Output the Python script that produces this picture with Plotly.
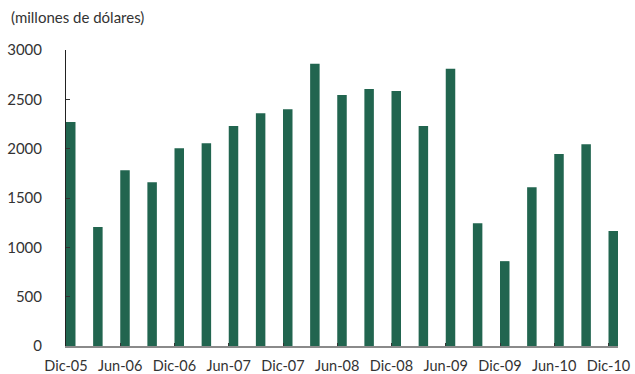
import plotly.graph_objects as go

quarters = ["Dic-05", "Mar-06", "Jun-06", "Sep-06", "Dic-06", "Mar-07", "Jun-07", "Sep-07",
            "Dic-07", "Mar-08", "Jun-08", "Sep-08", "Dic-08", "Mar-09", "Jun-09", "Sep-09",
            "Dic-09", "Mar-10", "Jun-10", "Sep-10", "Dic-10"]
values = [2270, 1205, 1780, 1660, 2005, 2055, 2230, 2360, 2400, 2860, 2545, 2605,
          2585, 2230, 2810, 1245, 860, 1610, 1945, 2045, 1165]
y_ticks = [0, 500, 1000, 1500, 2000, 2500, 3000]

x_pos = list(range(len(quarters)))
tick_pos = x_pos[::2]
tick_text = quarters[::2]

font_family = "Lato, 'Open Sans', sans-serif"
text_color = "#333333"

fig = go.Figure(go.Bar(
    x=x_pos, y=values, width=0.35, offset=0,
    marker=dict(color="#21654F", line=dict(width=0)),
    hoverinfo="y",
))

fig.update_layout(
    width=635, height=374,
    margin=dict(l=66, r=17, t=50, b=28, autoexpand=False),
    paper_bgcolor="white", plot_bgcolor="white",
    showlegend=False,
    font=dict(family=font_family, size=15, color=text_color),
    annotations=[dict(
        text="(millones de dólares)", xref="paper", yref="paper",
        x=-57/552, y=1 + 33/296, xanchor="left", yanchor="middle",
        showarrow=False, font=dict(family=font_family, size=15, color=text_color),
    )],
)

fig.update_xaxes(
    range=[0, 20.35], tickmode="array", tickvals=tick_pos, ticktext=tick_text,
    showgrid=False, zeroline=False, showline=True, linecolor="#8a8a8a", linewidth=1.5,
    ticks="inside", ticklen=3, tickcolor="#333333", tickwidth=1,
    ticklabelstandoff=6, ticklabeloverflow="allow", fixedrange=True, automargin=False,
    tickfont=dict(size=14.5),
)
fig.update_yaxes(
    range=[0, 3000], tickmode="array", tickvals=y_ticks,
    showgrid=False, zeroline=False, showline=True, linecolor="#222222", linewidth=1,
    ticks="inside", ticklen=4, tickcolor="#333333", tickwidth=1,
    ticklabelstandoff=20, fixedrange=True, automargin=False,
)

fig.write_html(
    "out.html",
    config={"displayModeBar": False, "staticPlot": True},
    post_script="document.body.style.margin='0';document.body.style.overflow='hidden';",
)
